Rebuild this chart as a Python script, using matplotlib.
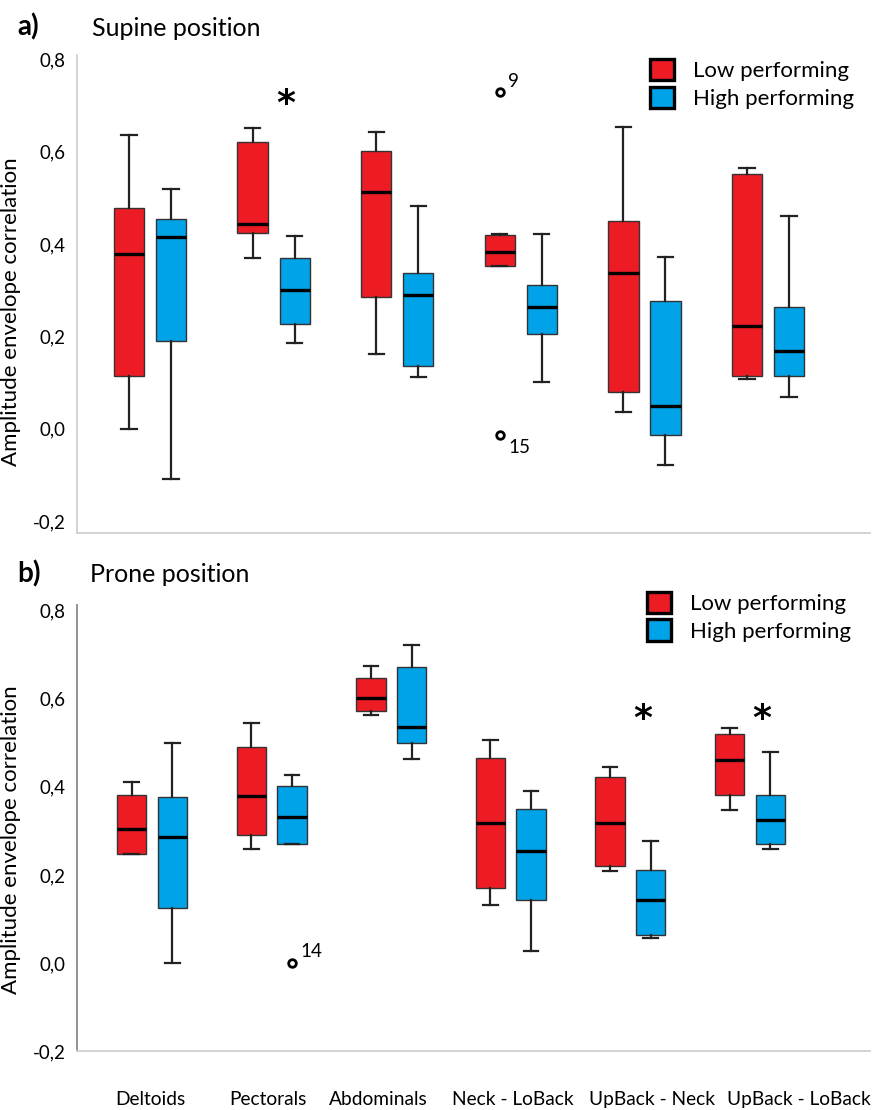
import matplotlib
matplotlib.use("Agg")
import matplotlib.pyplot as plt
from matplotlib.patches import Patch
import numpy as np

plt.rcParams['font.family'] = ['Lato', 'DejaVu Sans']

categories = ["Deltoids", "Pectorals", "Abdominals", "Neck - LoBack", "UpBack - Neck", "UpBack - LoBack"]
groups = ["Low performing", "High performing"]

# Supine: [whisker_low, q1, median, q3, whisker_high]
supine_low = [
    [0.00, 0.114, 0.378, 0.478, 0.636],
    [0.369, 0.423, 0.444, 0.621, 0.650],
    [0.161, 0.285, 0.513, 0.601, 0.643],
    [0.353, 0.353, 0.383, 0.419, 0.421],
    [0.036, 0.080, 0.338, 0.450, 0.654],
    [0.108, 0.115, 0.223, 0.551, 0.564],
]
supine_high = [
    [-0.108, 0.190, 0.414, 0.453, 0.518],
    [0.185, 0.227, 0.300, 0.369, 0.417],
    [0.111, 0.135, 0.289, 0.336, 0.482],
    [0.100, 0.205, 0.263, 0.310, 0.421],
    [-0.079, -0.013, 0.049, 0.276, 0.371],
    [0.069, 0.115, 0.168, 0.263, 0.461],
]
# Prone
prone_low = [
    [0.248, 0.248, 0.305, 0.382, 0.411],
    [0.259, 0.290, 0.379, 0.490, 0.545],
    [0.564, 0.573, 0.602, 0.647, 0.675],
    [0.132, 0.170, 0.317, 0.466, 0.506],
    [0.209, 0.220, 0.317, 0.422, 0.444],
    [0.348, 0.382, 0.462, 0.520, 0.533],
]
prone_high = [
    [0.000, 0.124, 0.287, 0.376, 0.500],
    [0.271, 0.271, 0.331, 0.403, 0.428],
    [0.463, 0.500, 0.537, 0.672, 0.722],
    [0.027, 0.143, 0.255, 0.349, 0.391],
    [0.057, 0.063, 0.142, 0.210, 0.276],
    [0.259, 0.271, 0.325, 0.382, 0.478],
]

# outliers: (category index, group index, value, label)
supine_outliers = [(3, 0, 0.728, "9"), (3, 0, -0.013, "15")]
prone_outliers = [(1, 1, 0.000, "14")]

# significance stars: (category index, y value)
supine_stars = [(1, 0.703)]
prone_stars = [(4, 0.555), (5, 0.555)]

ytick_vals = [-0.2, 0.0, 0.2, 0.4, 0.6, 0.8]
ytick_labels = ["-0,2", "0,0", "0,2", "0,4", "0,6", "0,8"]

RED = "#ED1C24"
BLUE = "#00A2E8"

W, H = 872, 1110
fig = plt.figure(figsize=(W / 100, H / 100), dpi=100)


def ax_rect(x0, x1, ytop, ybot):
    return [x0 / W, 1 - ybot / H, (x1 - x0) / W, (ybot - ytop) / H]


def draw_panel(ax, low, high, outliers, stars, ylim, xlim, left_spine_color, ylab_y):
    off = 0.17
    width = 0.245
    for gi, (data, color) in enumerate([(low, RED), (high, BLUE)]):
        stats = []
        for d in data:
            stats.append(dict(whislo=d[0], q1=d[1], med=d[2], q3=d[3], whishi=d[4], fliers=[]))
        pos = [i + (gi * 2 - 1) * off for i in range(len(data))]
        ax.bxp(stats, positions=pos, widths=width, patch_artist=True, showfliers=False,
               boxprops=dict(facecolor=color, edgecolor="#333333", linewidth=1.0),
               medianprops=dict(color="black", linewidth=2.4),
               whiskerprops=dict(color="#222222", linewidth=1.6),
               capprops=dict(color="#222222", linewidth=1.6),
               capwidths=width * 0.5, zorder=2)
    for ci, gi, v, lab in outliers:
        x = ci + (gi * 2 - 1) * off
        ax.plot([x], [v], marker="o", markersize=5.5, markerfacecolor="white",
                markeredgecolor="black", markeredgewidth=2, zorder=3)
        if lab == "15":
            ax.annotate(lab, (x, v), xytext=(6, -3), textcoords="offset points",
                        fontsize=13.5, ha="left", va="top")
        else:
            ax.annotate(lab, (x, v), xytext=(6, 2), textcoords="offset points",
                        fontsize=13.5, ha="left", va="bottom")
    for ci, v in stars:
        ax.text(ci + 0.1, v, "*", fontsize=26, fontweight="bold", ha="center", va="center",
                family="DejaVu Sans")
    ax.set_ylim(*ylim)
    ax.set_xlim(*xlim)
    ax.set_yticks(ytick_vals)
    ax.set_yticklabels(ytick_labels, fontsize=13.5)
    ax.tick_params(axis="y", length=0, pad=8)
    ax.tick_params(axis="x", length=0)
    for s in ["top", "right"]:
        ax.spines[s].set_visible(False)
    ax.spines["left"].set_color(left_spine_color)
    ax.spines["bottom"].set_color("#d0d0d0")
    ax.spines["left"].set_linewidth(1.3)
    ax.spines["bottom"].set_linewidth(1.3)
    ax.set_ylabel("Amplitude envelope correlation", fontsize=16)
    ax.yaxis.set_label_coords(-0.0706, ylab_y)
    handles = [Patch(facecolor=RED, edgecolor="black", linewidth=2.4, label=groups[0]),
               Patch(facecolor=BLUE, edgecolor="black", linewidth=2.4, label=groups[1])]
    return handles


leg_kw = dict(frameon=False, fontsize=16, handlelength=1.1, handleheight=1.1,
              handletextpad=0.85, labelspacing=0.25, borderaxespad=0, loc="upper left")

# Top panel (Supine)
ax1 = fig.add_axes(ax_rect(77, 870, 55, 533))
h = draw_panel(ax1, supine_low, supine_high, supine_outliers, supine_stars,
               (-0.226, 0.809), (-0.591, 5.825), "#d0d0d0", 0.462)
ax1.set_xticks([])
ax1.legend(handles=h, bbox_to_anchor=(564 / 793, 1.01), **leg_kw)

# Bottom panel (Prone)
ax2 = fig.add_axes(ax_rect(77, 870, 605, 1051))
h = draw_panel(ax2, prone_low, prone_high, prone_outliers, prone_stars,
               (-0.197, 0.813), (-0.627, 6.003), "#888888", 0.473)
label_px = [150, 268, 378, 513, 652, 799]
label_pos = [(p - 152) / 119.6 for p in label_px]
ax2.set_xticks(label_pos)
ax2.set_xticklabels(categories, fontsize=13.8)
ax2.tick_params(axis="x", pad=29)
ax2.legend(handles=h, bbox_to_anchor=(561 / 793, 1.05), **leg_kw)

# Panel titles
fig.text(17 / W, 1 - 27 / H, "a)", fontsize=20, fontweight="bold", va="center", ha="left")
fig.text(92 / W, 1 - 28 / H, "Supine position", fontsize=18, va="center", ha="left")
fig.text(17 / W, 1 - 574 / H, "b)", fontsize=20, fontweight="bold", va="center", ha="left")
fig.text(90 / W, 1 - 575 / H, "Prone position", fontsize=18, va="center", ha="left")

fig.savefig("out.png", dpi=100)
